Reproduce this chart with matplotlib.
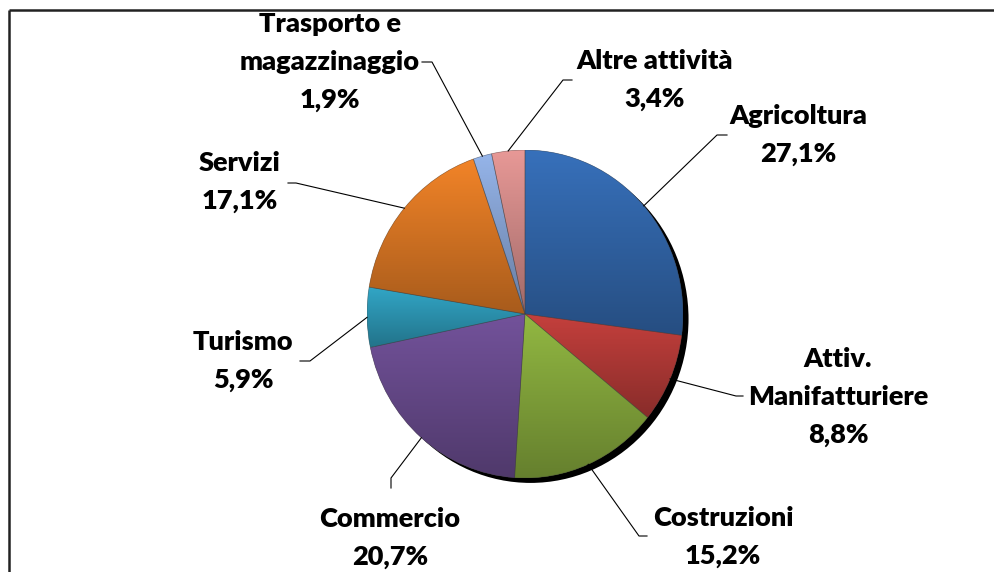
import numpy as np
import matplotlib
matplotlib.use("Agg")
import matplotlib.pyplot as plt
from matplotlib.patches import Ellipse, Wedge
from matplotlib.colors import to_rgb

settori = ["Agricoltura", "Attiv.\nManifatturiere", "Costruzioni", "Commercio",
           "Turismo", "Servizi", "Trasporto e\nmagazzinaggio", "Altre attività"]
quote = [27.1, 8.8, 15.2, 20.7, 5.9, 17.1, 1.9, 3.4]
etichette_pct = ["27,1%", "8,8%", "15,2%", "20,7%", "5,9%", "17,1%", "1,9%", "3,4%"]
colori = ["#3368AD", "#B63B38", "#87AA3D", "#6A4C8F", "#2E9AB8", "#E07A25", "#8AA7D8", "#D68D8B"]

# posizione del blocco di testo (pixel, origine in alto a sinistra), gomito e fine della linea guida
pos_testo = [(798, 135), (838, 397), (723, 537), (390, 538),
             (243, 361), (240, 182), (330, 62), (655, 80)]
gomiti = [((717, 135), (727, 135)), ((736, 396), (743, 396)), ((639, 536), (647, 536)),
          ((391, 478), (391, 488)), ((310, 361), (300, 361)), ((296, 183), (288, 183)),
          ((432, 62), (422, 62)), ((563, 80), (572, 80))]

W, H = 994, 572
fig = plt.figure(figsize=(W / 100, H / 100), dpi=100)
fig.patch.set_facecolor("white")

# assi della torta (ellisse leggermente allungata come nell'originale)
cx0, cx1, cy0, cy1 = 367, 683, 150, 478
ax = fig.add_axes([cx0 / W, 1 - cy1 / H, (cx1 - cx0) / W, (cy1 - cy0) / H])
wedges, _ = ax.pie(quote, startangle=90, counterclock=False, colors=colori,
                   wedgeprops=dict(edgecolor="none", linewidth=0))
ax.set_aspect("auto")
ax.axis("off")

# ombra
ombra = Ellipse((0.035, -0.03), 2.0, 2.0, facecolor="black", edgecolor="none", zorder=0, clip_on=False)
ax.add_patch(ombra)

# gradiente verticale per ogni spicchio
for w, c in zip(wedges, colori):
    w.set_zorder(1)
    w.set_clip_on(False)
    base = np.array(to_rgb(c))
    top = np.clip(base * 1.08, 0, 1)
    bot = base * 0.75
    t = np.linspace(0, 1, 64)[:, None]
    grad = top[None, :] * (1 - t) + bot[None, :] * t
    img = np.repeat(grad[:, None, :], 2, axis=1)
    verts = w.get_patch_transform().transform(w.get_path().vertices)
    x0, y0 = verts.min(axis=0)
    x1, y1 = verts.max(axis=0)
    im = ax.imshow(img, extent=(x0, x1, y0, y1), origin="upper", aspect="auto",
                   zorder=2, interpolation="bilinear")
    im.set_clip_path(w)
    ax.add_patch(Wedge(w.center, w.r, w.theta1, w.theta2, facecolor="none",
                       edgecolor=(0.25, 0.25, 0.25, 0.45), linewidth=0.5, zorder=3))
ax.set_aspect("auto")
ax.set_xlim(-1, 1)
ax.set_ylim(-1, 1)

# assi di sovrapposizione in pixel
ov = fig.add_axes([0, 0, 1, 1], zorder=5)
ov.set_xlim(0, W)
ov.set_ylim(H, 0)
ov.axis("off")
ov.patch.set_alpha(0)

# cornice (solo lati superiore e sinistro visibili)
ov.plot([9, W], [10, 10], color="#222222", lw=1.8, solid_capstyle="butt")
ov.plot([9, 9], [10, H], color="#222222", lw=1.8, solid_capstyle="butt")

# linee guida dal bordo dello spicchio
cum = np.cumsum([0] + quote[:-1])
tot = sum(quote)
for i, q in enumerate(quote):
    mid = 90 - (cum[i] + q / 2) / tot * 360
    px, py = ax.transData.transform((np.cos(np.radians(mid)), np.sin(np.radians(mid))))
    py = H - py
    (ex, ey), (fx, fy) = gomiti[i]
    ov.plot([px, ex, fx], [py, ey, fy], color="black", lw=0.8)

for nome, pct, (tx, ty) in zip(settori, etichette_pct, pos_testo):
    ov.text(tx, ty, nome + "\n" + pct, ha="center", va="center", fontsize=19.5,
            fontweight="heavy", family=["Lato", "DejaVu Sans"], linespacing=1.7, color="black")

fig.savefig("out.png", dpi=100, facecolor="white")
